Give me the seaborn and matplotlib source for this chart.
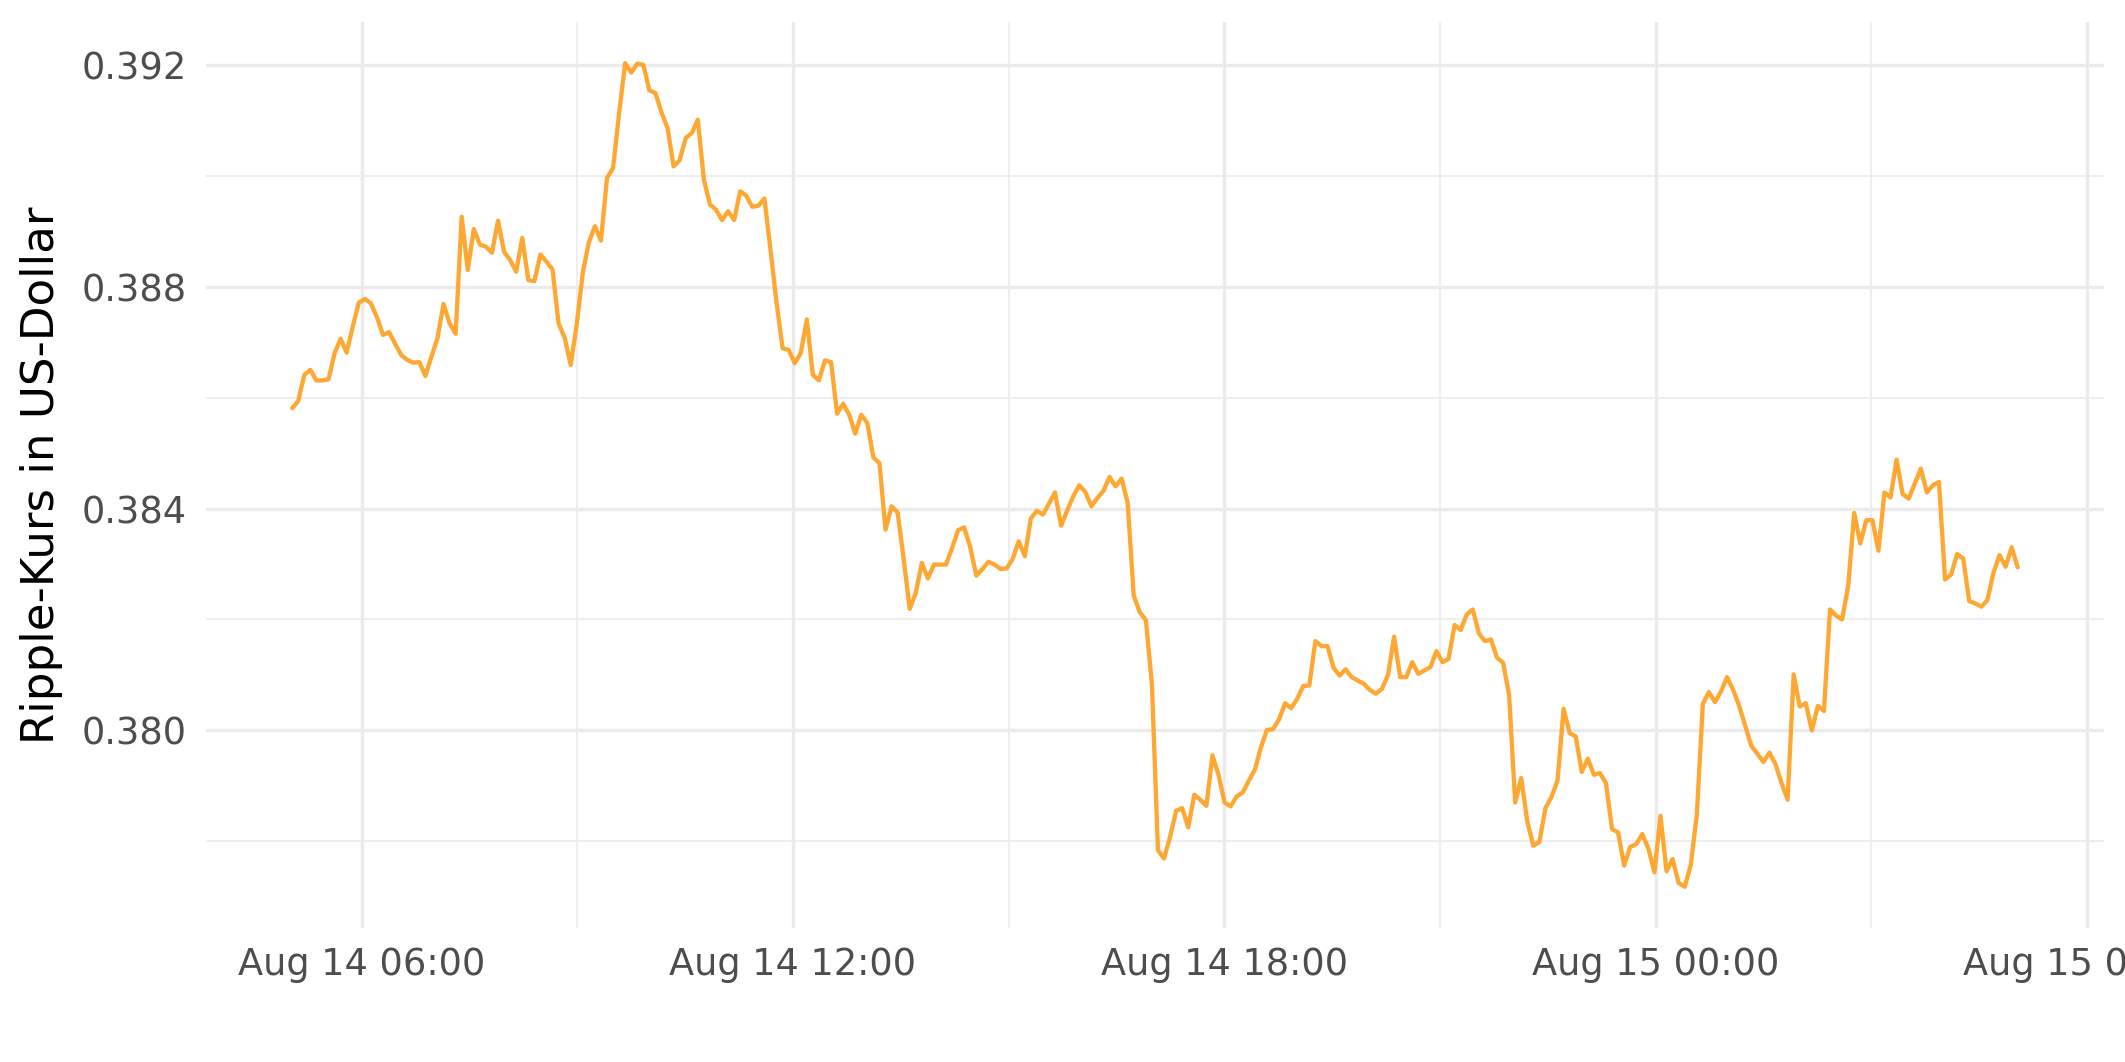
import numpy as np
import pandas as pd
import matplotlib
matplotlib.use("Agg")
import matplotlib.pyplot as plt
import matplotlib.dates as mdates
from matplotlib.ticker import MultipleLocator, FormatStrFormatter
import seaborn as sns

# Ripple price (USD), ~5-minute samples, in 1e-4 USD
block_1 = [3858.1, 3859.4, 3864.1, 3865.0, 3863.1, 3863.1, 3863.3, 3868.0, 3870.6, 3868.1,
           3872.8, 3877.1, 3877.8, 3877.0, 3874.5, 3871.3, 3871.8, 3869.7, 3867.7, 3866.8,
           3866.3, 3866.4, 3863.9, 3867.4, 3870.7, 3876.9, 3873.4, 3871.5, 3892.6, 3883.0,
           3890.4, 3887.6, 3887.2, 3886.1, 3891.9, 3886.3, 3884.8, 3882.7, 3888.8, 3881.2,
           3881.0, 3885.8, 3884.5, 3883.1, 3873.4, 3870.8, 3865.9]
block_2 = [3873.2, 3882.5, 3888.0, 3890.9, 3888.3, 3899.6, 3901.4, 3911.3, 3920.3, 3918.6,
           3920.2, 3920.0, 3915.4, 3914.9, 3911.4, 3908.6, 3901.7, 3902.8, 3906.8, 3907.7,
           3910.1, 3899.3, 3894.8, 3893.9, 3892.0, 3893.6, 3892.0, 3897.2, 3896.4, 3894.4,
           3894.6, 3895.9, 3886.7, 3877.1, 3868.9, 3868.6, 3866.2, 3868.0, 3874.1, 3864.1,
           3863.1, 3866.7, 3866.4, 3857.1, 3858.9, 3856.9, 3853.5, 3856.9]
block_3 = [3855.4, 3849.2, 3848.2, 3836.2, 3840.4, 3839.3, 3830.9, 3821.9, 3824.8, 3830.2,
           3827.4, 3829.9, 3829.9, 3829.9, 3832.9, 3836.1, 3836.6, 3833.0, 3827.9, 3829.1,
           3830.4, 3829.9, 3829.1, 3829.2, 3830.9, 3834.1, 3831.4, 3838.2, 3839.6, 3838.9,
           3840.9, 3842.9, 3836.9, 3839.6, 3842.2, 3844.2, 3843.0, 3840.4, 3841.9, 3843.2,
           3845.7, 3844.0, 3845.4, 3841.0, 3824.3, 3821.3, 3819.9, 3808.3]
block_4 = [3778.4, 3776.9, 3780.8, 3785.5, 3786.0, 3782.5, 3788.4, 3787.5, 3786.4, 3795.5,
           3792.0, 3787.0, 3786.3, 3788.1, 3788.8, 3790.9, 3792.9, 3796.9, 3800.1, 3800.2,
           3802.0, 3804.9, 3804.0, 3805.7, 3808.0, 3808.1, 3816.1, 3815.2, 3815.2, 3811.3,
           3809.9, 3811.0, 3809.6, 3809.0, 3808.4, 3807.3, 3806.6, 3807.5, 3810.0, 3816.9,
           3809.6, 3809.6, 3812.3, 3810.2, 3810.8, 3811.4, 3814.3, 3812.3]
block_5 = [3812.9, 3819.0, 3818.1, 3820.9, 3821.8, 3817.5, 3816.1, 3816.4, 3813.1, 3812.2,
           3806.4, 3787.0, 3791.4, 3783.6, 3779.2, 3779.9, 3786.0, 3788.0, 3791.0, 3803.9,
           3799.5, 3798.9, 3792.5, 3794.9, 3792.0, 3792.3, 3790.5, 3782.2, 3781.6, 3775.6,
           3779.0, 3779.5, 3781.3, 3778.7, 3774.4, 3784.6, 3774.6, 3776.8, 3772.5, 3771.8,
           3775.7, 3784.8, 3804.8, 3806.9, 3805.1, 3807.0, 3809.6, 3807.3]
block_6 = [3804.4, 3800.8, 3797.2, 3795.8, 3794.3, 3796.0, 3793.9, 3790.5, 3787.5, 3810.1,
           3804.3, 3804.9, 3800.0, 3804.4, 3803.5, 3821.8, 3820.7, 3820.0, 3826.0, 3839.2,
           3833.7, 3837.9, 3837.9, 3832.4, 3842.9, 3842.0, 3848.8, 3842.6, 3841.8, 3844.5,
           3847.2, 3842.9, 3844.2, 3844.8, 3827.2, 3828.1, 3831.8, 3831.0, 3823.3, 3822.9,
           3822.3, 3823.5, 3828.4, 3831.6, 3829.5, 3833.0, 3829.4]

start_time = "2024-08-14 05:02"
end_time = "2024-08-15 05:02"
y_label = "Ripple-Kurs in US-Dollar"

prices = np.array(block_1 + block_2 + block_3 + block_4 + block_5 + block_6) / 1e4
times = pd.date_range(start_time, end_time, periods=len(prices))
df = pd.DataFrame({"time": times, "price": prices})

sns.set_theme(style="white")
plt.rcParams["font.family"] = ["DejaVu Sans"]

fig = plt.figure(figsize=(21.25, 10.62), dpi=100)
ax = fig.add_axes([0.0969, 0.1262, 0.9901 - 0.0969, 0.9793 - 0.1262])

sns.lineplot(data=df, x="time", y="price", ax=ax, color="#FFA733", linewidth=3.1)

ax.margins(x=0.05, y=0.05)
ax.xaxis.set_major_locator(mdates.HourLocator(byhour=[0, 6, 12, 18]))
ax.xaxis.set_minor_locator(mdates.HourLocator(byhour=[3, 9, 15, 21]))
ax.xaxis.set_major_formatter(mdates.DateFormatter("%b %d %H:%M"))
ax.yaxis.set_major_locator(MultipleLocator(0.004))
ax.yaxis.set_minor_locator(MultipleLocator(0.002))
ax.yaxis.set_major_formatter(FormatStrFormatter("%.3f"))

ax.grid(which="major", color="#EBEBEB", linewidth=2.4)
ax.grid(which="minor", color="#EBEBEB", linewidth=1.2)
ax.set_axisbelow(True)
for s in ax.spines.values():
    s.set_visible(False)

ax.tick_params(which="both", length=0)
ax.tick_params(axis="x", labelsize=26.5, labelcolor="#4D4D4D", pad=13)
ax.tick_params(axis="y", labelsize=26.5, labelcolor="#4D4D4D", pad=14)
ax.set_xlabel("")
ax.set_ylabel(y_label, fontsize=32.5, color="black", labelpad=13)

fig.savefig("out.png", dpi=100, facecolor="white")
